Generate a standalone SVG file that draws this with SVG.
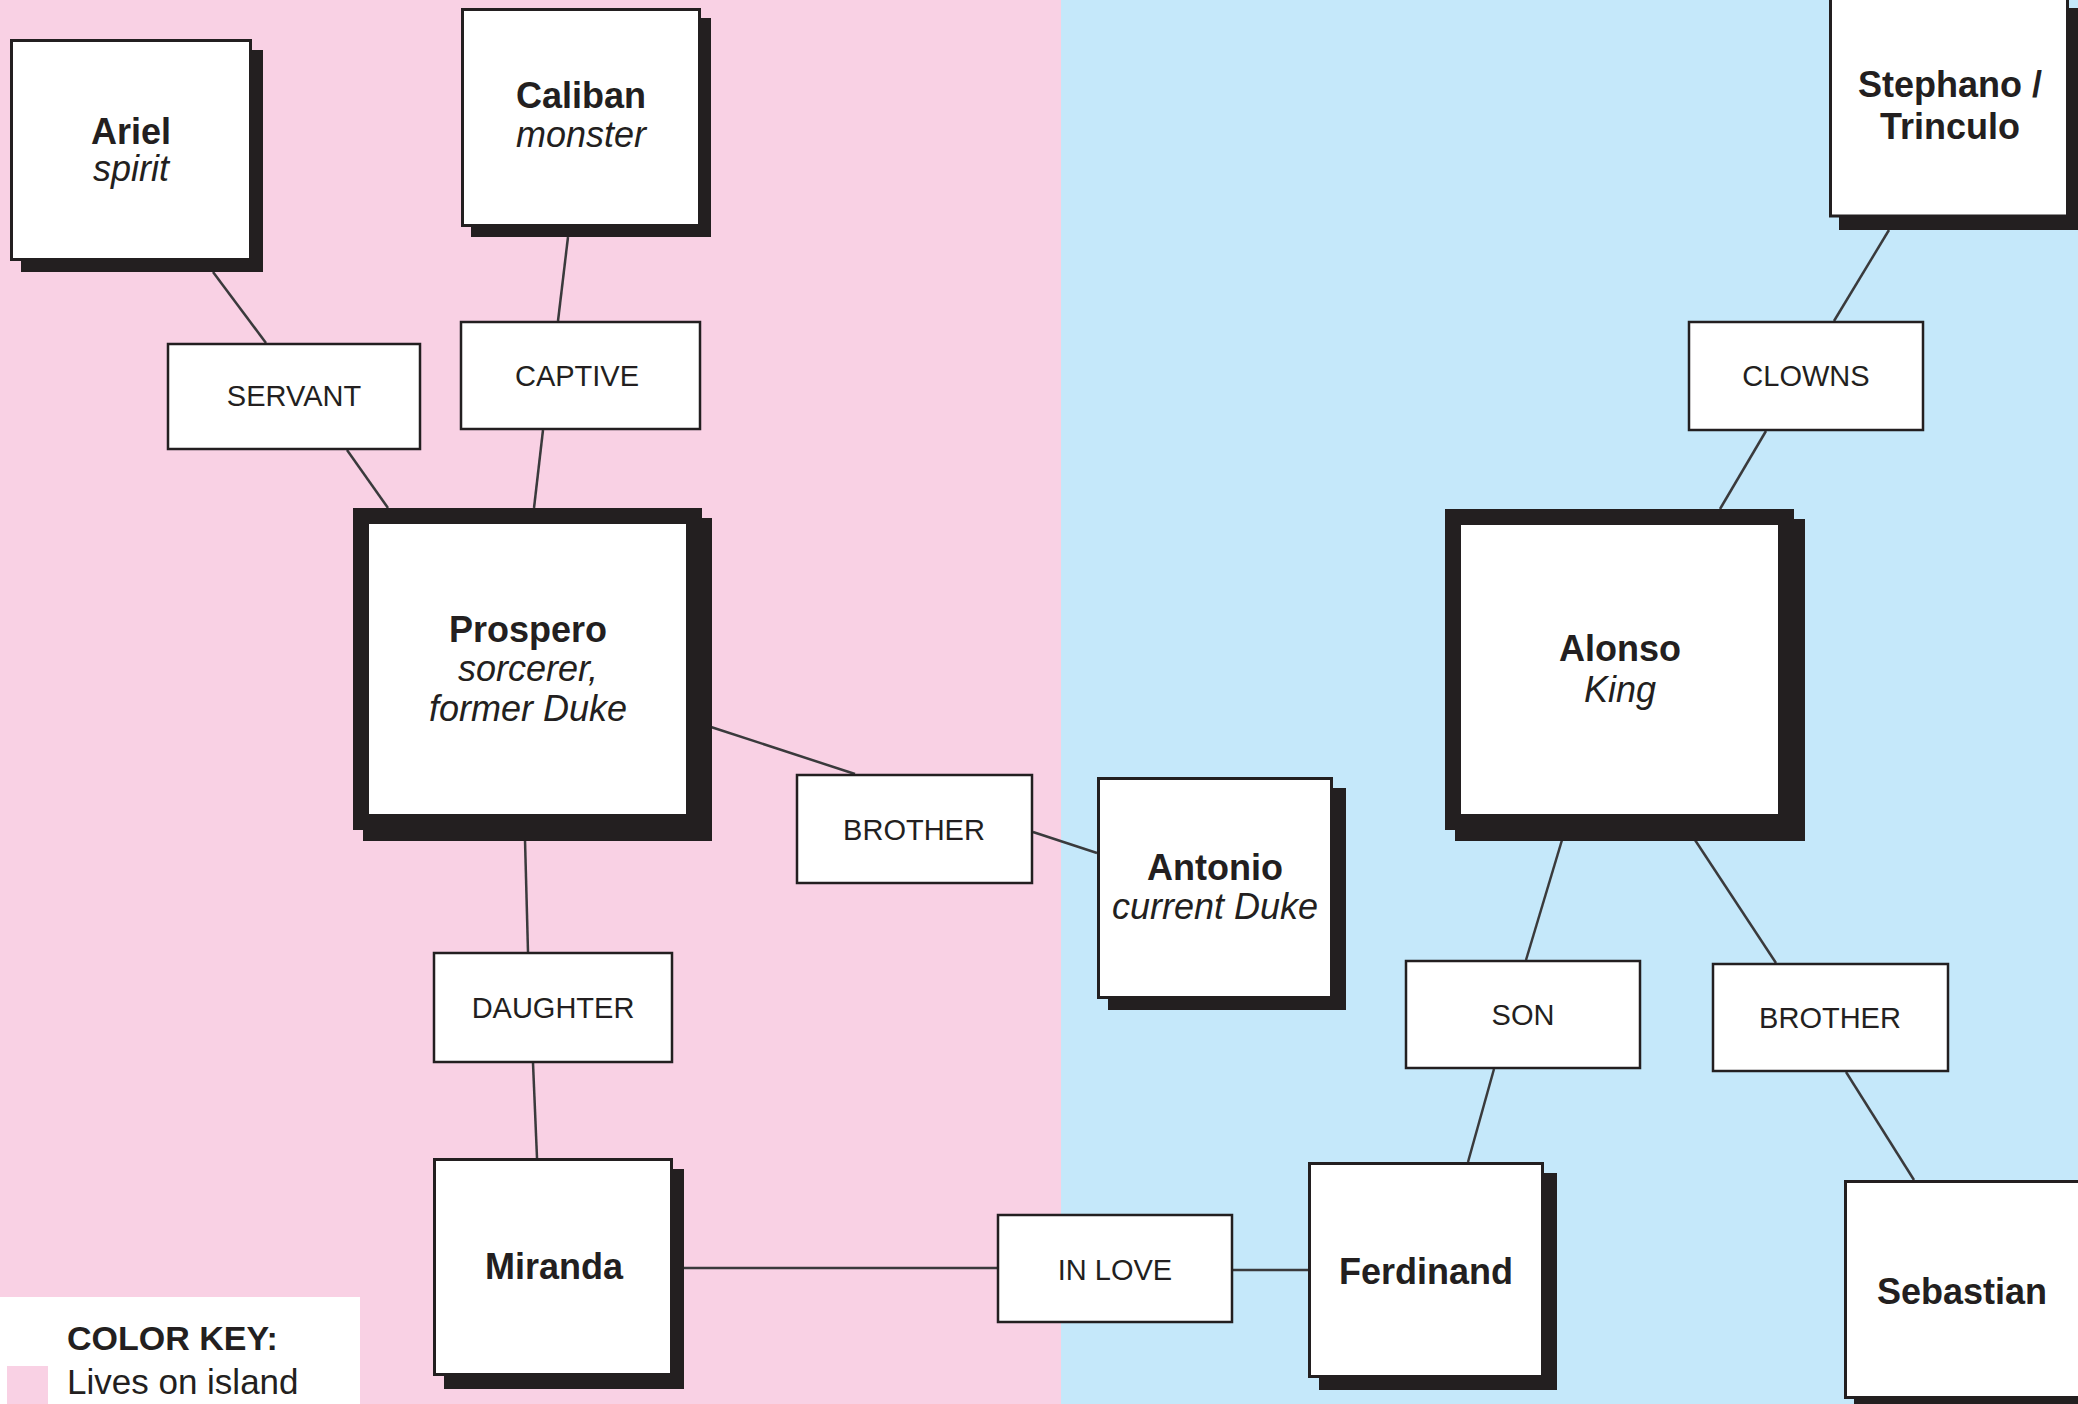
<svg xmlns="http://www.w3.org/2000/svg" width="2078" height="1404" viewBox="0 0 2078 1404">
<style>
.sh{fill:#231f20}
.box{fill:#fff;stroke:#231f20;stroke-width:3}
.big{fill:#fff;stroke:#231f20;stroke-width:16}
.lbl{fill:#fff;stroke:#231f20;stroke-width:2.5}
.name{font-family:"Liberation Sans",Arial,sans-serif;font-weight:bold;font-size:36px;fill:#231f20;text-anchor:middle}
.sub{font-family:"Liberation Sans",Arial,sans-serif;font-style:italic;font-size:36px;fill:#231f20;text-anchor:middle}
.lt{font-family:"Liberation Sans",Arial,sans-serif;font-size:29px;fill:#231f20;text-anchor:middle}
.con line{stroke:#3a3a3c;stroke-width:2.5}
</style>
<rect x="0" y="0" width="1061" height="1404" fill="#f9d1e4"/>
<rect x="1061" y="0" width="1017" height="1404" fill="#c5e8fa"/>

<g id="connectors" class="con">
<line x1="213" y1="272" x2="266" y2="343"/>
<line x1="347" y1="450" x2="388" y2="508"/>
<line x1="568" y1="237" x2="558" y2="321"/>
<line x1="543" y1="430" x2="534" y2="508"/>
<line x1="711" y1="727" x2="855" y2="774"/>
<line x1="1033" y1="832" x2="1097" y2="853"/>
<line x1="525" y1="840" x2="528" y2="952"/>
<line x1="533" y1="1063" x2="537" y2="1158"/>
<line x1="683" y1="1268" x2="997" y2="1268"/>
<line x1="1233" y1="1270" x2="1308" y2="1270"/>
<line x1="1562" y1="840" x2="1526" y2="960"/>
<line x1="1494" y1="1069" x2="1468" y2="1162"/>
<line x1="1695" y1="840" x2="1776" y2="963"/>
<line x1="1846" y1="1072" x2="1914" y2="1180"/>
<line x1="1889" y1="230" x2="1834" y2="321"/>
<line x1="1766" y1="431" x2="1720" y2="509"/>
</g>

<g id="ariel">
<rect class="sh" x="21" y="50" width="242" height="222"/>
<rect class="box" x="11.5" y="40.5" width="239" height="219"/>
<text class="name" x="131" y="144">Ariel</text>
<text class="sub" x="131" y="181">spirit</text>
</g>
<g id="caliban">
<rect class="sh" x="471" y="18" width="240" height="219"/>
<rect class="box" x="462.5" y="9.5" width="237" height="216"/>
<text class="name" x="581" y="108">Caliban</text>
<text class="sub" x="581" y="147">monster</text>
</g>
<g id="servant">
<rect class="lbl" x="168" y="344" width="252" height="105"/>
<text class="lt" x="294" y="406">SERVANT</text>
</g>
<g id="captive">
<rect class="lbl" x="461" y="322" width="239" height="107"/>
<text class="lt" x="577" y="386">CAPTIVE</text>
</g>
<g id="prospero">
<rect class="sh" x="363" y="518" width="349" height="323"/>
<rect class="big" x="361" y="516" width="333" height="306"/>
<text class="name" x="528" y="642">Prospero</text>
<text class="sub" x="528" y="681">sorcerer,</text>
<text class="sub" x="528" y="721">former Duke</text>
</g>
<g id="brother-left">
<rect class="lbl" x="797" y="775" width="235" height="108"/>
<text class="lt" x="914" y="840">BROTHER</text>
</g>
<g id="antonio">
<rect class="sh" x="1108" y="788" width="238" height="222"/>
<rect class="box" x="1098.5" y="778.5" width="233" height="219"/>
<text class="name" x="1215" y="880">Antonio</text>
<text class="sub" x="1215" y="919">current Duke</text>
</g>
<g id="daughter">
<rect class="lbl" x="434" y="953" width="238" height="109"/>
<text class="lt" x="553" y="1018">DAUGHTER</text>
</g>
<g id="miranda">
<rect class="sh" x="444" y="1169" width="240" height="220"/>
<rect class="box" x="434.5" y="1159.5" width="237" height="215"/>
<text class="name" x="554" y="1279">Miranda</text>
</g>
<g id="in-love">
<rect class="lbl" x="998" y="1215" width="234" height="107"/>
<text class="lt" x="1115" y="1280">IN LOVE</text>
</g>
<g id="ferdinand">
<rect class="sh" x="1319" y="1173" width="238" height="217"/>
<rect class="box" x="1309.5" y="1163.5" width="233" height="213"/>
<text class="name" x="1426" y="1284">Ferdinand</text>
</g>
<g id="son">
<rect class="lbl" x="1406" y="961" width="234" height="107"/>
<text class="lt" x="1523" y="1025">SON</text>
</g>
<g id="brother-right">
<rect class="lbl" x="1713" y="964" width="235" height="107"/>
<text class="lt" x="1830" y="1028">BROTHER</text>
</g>
<g id="alonso">
<rect class="sh" x="1455" y="519" width="350" height="322"/>
<rect class="big" x="1453" y="517" width="333" height="305"/>
<text class="name" x="1620" y="661">Alonso</text>
<text class="sub" x="1620" y="702">King</text>
</g>
<g id="sebastian">
<rect class="sh" x="1854" y="1190" width="240" height="220"/>
<rect class="box" x="1845.5" y="1181.5" width="236" height="216"/>
<text class="name" x="1962" y="1304">Sebastian</text>
</g>
<g id="clowns">
<rect class="lbl" x="1689" y="322" width="234" height="108"/>
<text class="lt" x="1806" y="386">CLOWNS</text>
</g>
<g id="stephano-trinculo">
<rect class="sh" x="1839" y="8" width="240" height="222"/>
<rect class="box" x="1830.5" y="-3" width="237" height="219"/>
<text class="name" x="1950" y="97">Stephano /</text>
<text class="name" x="1950" y="139">Trinculo</text>
</g>

<g id="color-key">
<rect x="0" y="1297" width="360" height="107" fill="#fff"/>
<text x="67" y="1350" font-family="Liberation Sans, Arial, sans-serif" font-weight="bold" font-size="34" fill="#231f20">COLOR KEY:</text>
<rect x="7" y="1366" width="41" height="38" fill="#f9d1e4"/>
<text x="67" y="1394" font-family="Liberation Sans, Arial, sans-serif" font-size="35" fill="#231f20">Lives on island</text>
</g>
</svg>
